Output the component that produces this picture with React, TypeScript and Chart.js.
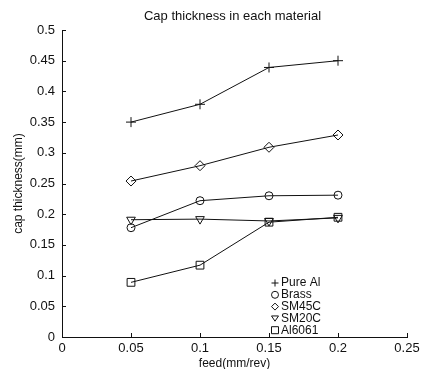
import React, { useEffect, useRef } from "react";
import { Chart, registerables } from "chart.js";

Chart.register(...registerables);

const chartTitle = "Cap thickness in each material";
const xTitle = "feed(mm/rev)";
const yTitle = "cap thickness(mm)";

const feed = [0.05, 0.1, 0.15, 0.2];
const seriesNames = ["Pure Al", "Brass", "SM45C", "SM20C", "Al6061"];
const pureAl = [0.35, 0.379, 0.439, 0.45];
const brass = [0.178, 0.222, 0.23, 0.231];
const sm45c = [0.254, 0.279, 0.309, 0.329];
const sm20c = [0.191, 0.192, 0.189, 0.194];
const al6061 = [0.089, 0.117, 0.187, 0.195];

const xTicks = [0, 0.05, 0.1, 0.15, 0.2, 0.25];
const xTickLabels = ["0", "0.05", "0.1", "0.15", "0.2", "0.25"];
const yTicks = [0, 0.05, 0.1, 0.15, 0.2, 0.25, 0.3, 0.35, 0.4, 0.45, 0.5];
const yTickLabels = ["0", "0.05", "0.1", "0.15", "0.2", "0.25", "0.3", "0.35", "0.4", "0.45", "0.5"];

const FONT = "'Liberation Sans', Arial, sans-serif";
const INK = "#111";

const markerStyles = ["cross", "circle", "rectRot", "triangle", "rect"];
const markerRadii = [5, 4, 5, 5, 5.5];
const markerRotation = [0, 0, 0, 180, 0];

function drawMarker(ctx: CanvasRenderingContext2D, style: string, x: number, y: number, r: number) {
  ctx.beginPath();
  if (style === "cross") {
    ctx.moveTo(x - r, y);
    ctx.lineTo(x + r, y);
    ctx.moveTo(x, y - r);
    ctx.lineTo(x, y + r);
  } else if (style === "circle") {
    ctx.arc(x, y, r, 0, Math.PI * 2);
  } else if (style === "rectRot") {
    ctx.moveTo(x, y - r);
    ctx.lineTo(x + r, y);
    ctx.lineTo(x, y + r);
    ctx.lineTo(x - r, y);
    ctx.closePath();
  } else if (style === "triangle") {
    ctx.moveTo(x - r, y - r * 0.7);
    ctx.lineTo(x + r, y - r * 0.7);
    ctx.lineTo(x, y + r * 0.8);
    ctx.closePath();
  } else if (style === "rect") {
    ctx.rect(x - r, y - r, 2 * r, 2 * r);
  }
  ctx.stroke();
}

const decorPlugin = {
  id: "decor",
  afterDraw(chart: any) {
    const ctx: CanvasRenderingContext2D = chart.ctx;
    const area = chart.chartArea;
    const xs = chart.scales.x;
    const ys = chart.scales.y;
    ctx.save();
    ctx.strokeStyle = INK;
    ctx.lineWidth = 1;
    // inward ticks
    ctx.beginPath();
    xTicks.forEach((v) => {
      const px = Math.round(xs.getPixelForValue(v)) + 0.5;
      ctx.moveTo(px, area.bottom);
      ctx.lineTo(px, area.bottom - 4);
    });
    yTicks.forEach((v) => {
      const py = Math.round(ys.getPixelForValue(v)) + 0.5;
      ctx.moveTo(area.left, py);
      ctx.lineTo(area.left + 4, py);
    });
    ctx.stroke();
    // title
    ctx.fillStyle = INK;
    ctx.font = `13px ${FONT}`;
    ctx.textAlign = "center";
    ctx.textBaseline = "middle";
    ctx.fillText(chartTitle, (area.left + area.right) / 2 - 2, 16);
    // legend
    ctx.font = `12px ${FONT}`;
    ctx.textAlign = "left";
    chart.data.datasets.forEach((ds: any, i: number) => {
      const y = 283 + i * 11.8;
      drawMarker(ctx, markerStyles[i], 275, y, 3.5);
      ctx.fillText(ds.label, 281, y);
    });
    ctx.restore();
  },
};

export default function App() {
  const ref = useRef<HTMLCanvasElement | null>(null);
  useEffect(() => {
    if (!ref.current) return;
    const all = [pureAl, brass, sm45c, sm20c, al6061];
    const datasets = all.map((vals, i) => ({
      label: seriesNames[i],
      data: feed.map((f, j) => ({ x: f, y: vals[j] })),
      borderColor: INK,
      borderWidth: 1,
      backgroundColor: "transparent",
      pointStyle: markerStyles[i],
      pointRadius: markerRadii[i],
      pointRotation: markerRotation[i],
      pointBorderColor: INK,
      pointBorderWidth: 1,
      pointBackgroundColor: "transparent",
      tension: 0,
      fill: false,
    }));
    const chart = new Chart(ref.current, {
      type: "line",
      data: { datasets },
      plugins: [decorPlugin],
      options: {
        animation: false,
        responsive: false,
        devicePixelRatio: 1,
        layout: { padding: { top: 30, right: 17, left: 0, bottom: 0 } },
        plugins: { legend: { display: false }, tooltip: { enabled: false }, title: { display: false } },
        scales: {
          x: {
            type: "linear",
            min: 0,
            max: 0.25,
            afterBuildTicks: (s: any) => {
              s.ticks = xTicks.map((v) => ({ value: v }));
            },
            afterFit: (s: any) => {
              s.height = 32;
            },
            ticks: {
              color: INK,
              font: { family: FONT, size: 13 },
              padding: 4,
              maxRotation: 0,
              callback: (v: any) => {
                const k = xTicks.findIndex((t) => Math.abs(t - v) < 1e-9);
                return k >= 0 ? xTickLabels[k] : "";
              },
            },
            grid: { drawOnChartArea: false, drawTicks: false },
            border: { color: INK, width: 1 },
            title: {
              display: true,
              text: xTitle,
              color: INK,
              font: { family: FONT, size: 12 },
              padding: { top: 0, bottom: -1.5 },
            },
          },
          y: {
            type: "linear",
            min: 0,
            max: 0.5,
            afterBuildTicks: (s: any) => {
              s.ticks = yTicks.map((v) => ({ value: v }));
            },
            afterFit: (s: any) => {
              s.width = 62;
            },
            ticks: {
              color: INK,
              font: { family: FONT, size: 13 },
              padding: 7,
              callback: (v: any) => {
                const k = yTicks.findIndex((t) => Math.abs(t - v) < 1e-9);
                return k >= 0 ? yTickLabels[k] : "";
              },
            },
            grid: { drawOnChartArea: false, drawTicks: false },
            border: { color: INK, width: 1 },
            title: {
              display: true,
              text: yTitle,
              color: INK,
              font: { family: FONT, size: 12 },
              padding: { top: 11, bottom: 0 },
            },
          },
        },
      } as any,
    });
    return () => chart.destroy();
  }, []);
  return (
    <div style={{ position: "absolute", left: 0, top: 0, width: 424, height: 369, background: "#fff" }}>
      <canvas ref={ref} width={424} height={369} style={{ display: "block", width: 424, height: 369 }} />
    </div>
  );
}
